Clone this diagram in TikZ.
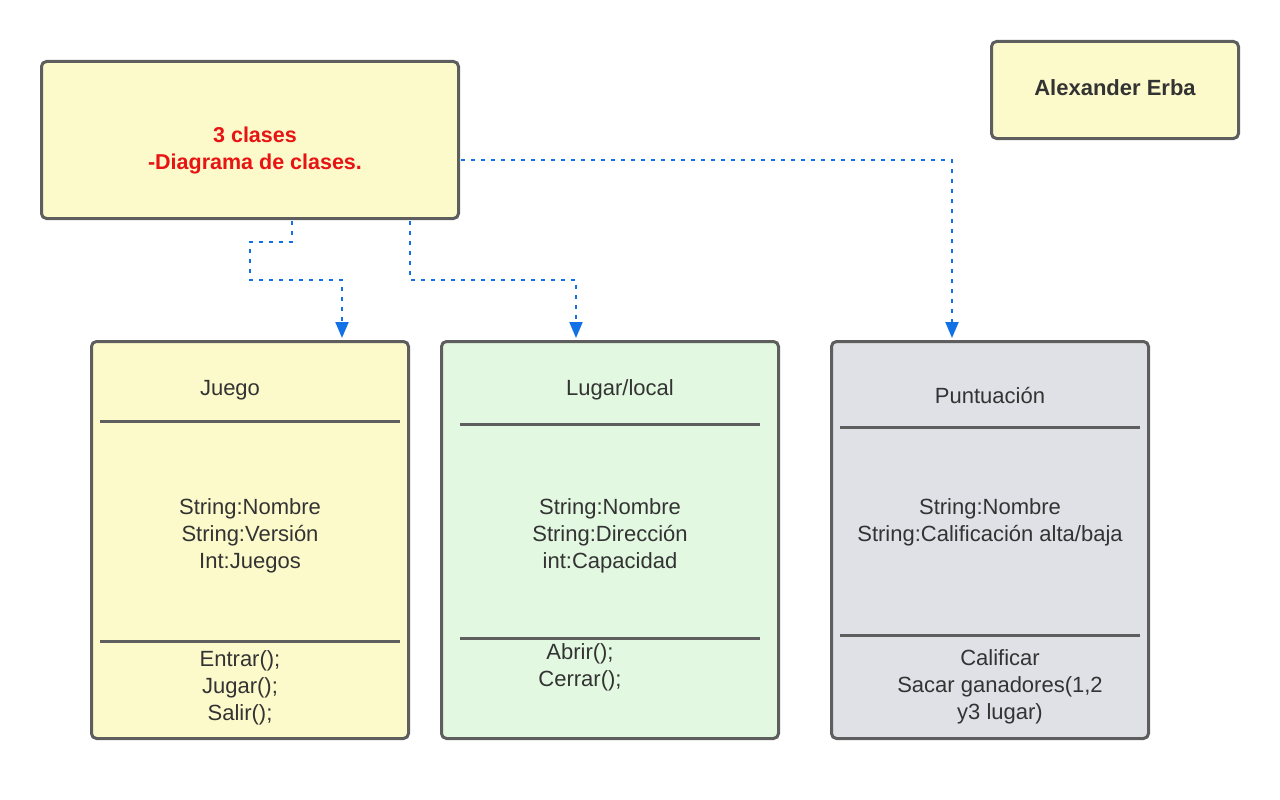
\documentclass[tikz,border=0pt]{standalone}
\usepackage{fontspec}
\setmainfont{Liberation Sans}
\usetikzlibrary{arrows.meta,calc}
\definecolor{boxline}{HTML}{5E5E5E}
\definecolor{yel}{HTML}{FCFACA}
\definecolor{grn}{HTML}{E2F8E1}
\definecolor{gry}{HTML}{DFE1E6}
\definecolor{blu}{HTML}{1271E6}
\definecolor{redt}{HTML}{E81313}
\definecolor{txtc}{HTML}{333333}
\tikzset{
  box/.style={draw=boxline, line width=3pt, rounded corners=5pt},
  txt/.style={text=txtc, font=\fontsize{22}{27}\selectfont, align=center, inner sep=0pt},
  sep/.style={draw=boxline, line width=3pt},
  conn/.style={draw=blu, line width=2pt, dash pattern=on 4pt off 6pt, -{Triangle[width=13pt,length=16pt]}},
}
\begin{document}
\begin{tikzpicture}[x=1pt,y=-1pt]
\useasboundingbox (0,0) rectangle (1280,800);
% boxes
\node[box, fill=yel, minimum width=417pt, minimum height=157pt, anchor=north west] (title) at (40,60) {};
\node[box, fill=yel, minimum width=247pt, minimum height=97pt, anchor=north west] (author) at (990,40) {};
\node[box, fill=yel, minimum width=317pt, minimum height=397pt, anchor=north west] (juego) at (90,340) {};
\node[box, fill=grn, minimum width=337pt, minimum height=397pt, anchor=north west] (lugar) at (440,340) {};
\node[box, fill=gry, minimum width=317pt, minimum height=397pt, anchor=north west] (punt) at (830,340) {};
% texts
\node[txt, text=redt, font=\bfseries\fontsize{21.5}{27}\selectfont] (titletxt) at (255,150.5) {3 clases\\-Diagrama de clases.};
\node[txt, font=\bfseries\fontsize{22}{27}\selectfont] (authortxt) at (1115,88) {Alexander Erba};
% Juego
\node[txt] (jname) at (230,390) {Juego};
\draw[sep] ($(juego.north west)+(10,81)$) -- ($(juego.north east)+(-10,81)$);
\node[txt] (jattr) at (250,536) {String:Nombre\\String:Versión\\Int:Juegos};
\draw[sep] ($(juego.north west)+(10,301)$) -- ($(juego.north east)+(-10,301)$);
\node[txt] (jmeth) at (240,688) {Entrar();\\Jugar();\\Salir();};
% Lugar
\node[txt] (lname) at (620,390) {Lugar/local};
\draw[sep] ($(lugar.north west)+(20,84)$) -- ($(lugar.north east)+(-20,84)$);
\node[txt] (lattr) at (610,536) {String:Nombre\\String:Dirección\\int:Capacidad};
\draw[sep] ($(lugar.north west)+(20,298)$) -- ($(lugar.north east)+(-20,298)$);
\node[txt] (lmeth) at (580,667.5) {Abrir();\\Cerrar();};
% Puntuacion
\node[txt] (pname) at (990,396) {Puntuación};
\draw[sep] ($(punt.north west)+(10,87)$) -- ($(punt.north east)+(-10,87)$);
\node[txt] (pattr) at (990,522.5) {String:Nombre\\String:Calificación alta/baja};
\draw[sep] ($(punt.north west)+(10,295)$) -- ($(punt.north east)+(-10,295)$);
\node[txt] (pmeth) at (1000,687) {Calificar\\Sacar ganadores(1,2\hspace*{20pt}\\y3 lugar)};
% connectors
\coordinate (j1) at ($(juego.north west)+(252,-2)$);
\coordinate (l1) at ($(lugar.north west)+(136,-2)$);
\coordinate (p1) at ($(punt.north west)+(122,-2)$);
\draw[conn] ($(title.south west)+(252,1)$) -- ++(0,21) -- ++(-42,0) |- ($(j1)+(0,-58)$) -- (j1);
\draw[conn] ($(title.south west)+(370,1)$) |- ($(l1)+(0,-58)$) -- (l1);
\draw[conn] ($(title.north east)+(1,100)$) -| (p1);
\end{tikzpicture}
\end{document}
